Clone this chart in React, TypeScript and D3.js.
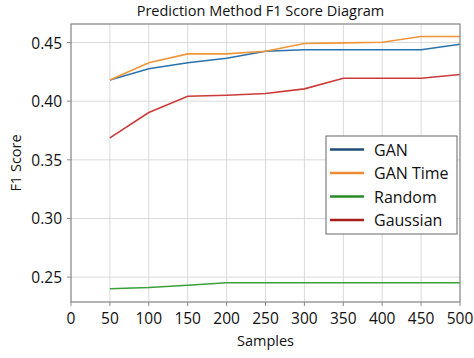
import React, { useRef, useEffect } from 'react';
import * as d3 from 'd3';

// data
const samples = [50, 100, 150, 200, 250, 300, 350, 400, 450, 500];
const gan = [0.418, 0.4276, 0.4327, 0.4366, 0.4426, 0.4438, 0.4438, 0.4438, 0.4438, 0.4486];
const ganTime = [0.418, 0.4327, 0.4403, 0.4403, 0.4426, 0.4492, 0.4497, 0.4503, 0.4551, 0.4551];
const random = [0.2401, 0.2412, 0.2431, 0.2452, 0.2452, 0.2452, 0.2452, 0.2452, 0.2452, 0.2452];
const gaussian = [0.3687, 0.3903, 0.4042, 0.405, 0.4065, 0.4105, 0.4195, 0.4195, 0.4195, 0.4227];
const seriesNames = ['GAN', 'GAN Time', 'Random', 'Gaussian'];
const seriesColors = ['#2a72ad', '#f0953a', '#3aa03a', '#cc3a3a'];
const legendColors = ['#1f4e79', '#ed8a34', '#2a8a2a', '#a81e1e'];
const xTicks = [0, 50, 100, 150, 200, 250, 300, 350, 400, 450, 500];
const yTicks = [0.25, 0.3, 0.35, 0.4, 0.45];

const W = 474;
const H = 358;
const FONT = '"Open Sans", "Noto Sans", sans-serif';

export default function App() {
  const ref = useRef<SVGSVGElement>(null);

  useEffect(() => {
    const svg = d3.select(ref.current);
    svg.selectAll('*').remove();

    const left = 71, right = 460, top = 24, bottom = 302;
    const x = d3.scaleLinear().domain([0, 500]).range([left, right]);
    const y = d3.scaleLinear().domain([0.2288, 0.4658]).range([bottom, top]);

    svg.append('rect').attr('width', W).attr('height', H).attr('fill', '#fff');

    // gridlines
    const grid = svg.append('g').attr('stroke', '#d9d9d9').attr('stroke-width', 1);
    xTicks.slice(1, -1).forEach(t => {
      grid.append('line').attr('x1', x(t)).attr('x2', x(t)).attr('y1', top).attr('y2', bottom);
    });
    yTicks.forEach(t => {
      grid.append('line').attr('x1', left).attr('x2', right).attr('y1', y(t)).attr('y2', y(t));
    });

    // lines
    const all = [gan, ganTime, random, gaussian];
    const line = d3.line<number>().x((d, i) => x(samples[i])).y(d => y(d));
    all.forEach((vals, i) => {
      svg.append('path')
        .attr('d', line(vals))
        .attr('fill', 'none')
        .attr('stroke', seriesColors[i])
        .attr('stroke-width', 1.6);
    });

    // frame
    svg.append('rect')
      .attr('x', left).attr('y', top)
      .attr('width', right - left).attr('height', bottom - top)
      .attr('fill', 'none').attr('stroke', '#8c8c8c').attr('stroke-width', 1.3);

    // y axis ticks
    const yAxis = svg.append('g');
    yTicks.forEach(t => {
      yAxis.append('line').attr('x1', left - 4).attr('x2', left).attr('y1', y(t)).attr('y2', y(t))
        .attr('stroke', '#8c8c8c');
      yAxis.append('text')
        .attr('x', left - 9).attr('y', y(t))
        .attr('text-anchor', 'end').attr('dominant-baseline', 'central')
        .attr('font-family', FONT).attr('font-size', 15.5).attr('fill', '#111')
        .text(t.toFixed(2));
    });

    // x axis ticks
    const xAxis = svg.append('g');
    xTicks.forEach(t => {
      xAxis.append('line').attr('x1', x(t)).attr('x2', x(t)).attr('y1', bottom).attr('y2', bottom + 4)
        .attr('stroke', '#8c8c8c');
      xAxis.append('text')
        .attr('x', x(t)).attr('y', 318)
        .attr('text-anchor', 'middle').attr('dominant-baseline', 'central')
        .attr('font-family', FONT).attr('font-size', 15.5).attr('fill', '#111')
        .text(String(t));
    });

    // titles
    svg.append('text')
      .attr('x', (left + right) / 2 - 5).attr('y', 10)
      .attr('text-anchor', 'middle').attr('dominant-baseline', 'central')
      .attr('font-family', FONT).attr('font-size', 14.5).attr('fill', '#111')
      .text('Prediction Method F1 Score Diagram');
    svg.append('text')
      .attr('x', (left + right) / 2).attr('y', 340)
      .attr('text-anchor', 'middle').attr('dominant-baseline', 'central')
      .attr('font-family', FONT).attr('font-size', 14.5).attr('fill', '#111')
      .text('Samples');
    svg.append('text')
      .attr('transform', `translate(15,${(top + bottom) / 2}) rotate(-90)`)
      .attr('text-anchor', 'middle').attr('dominant-baseline', 'central')
      .attr('font-family', FONT).attr('font-size', 14.5).attr('fill', '#111')
      .text('F1 Score');

    // legend
    const lg = svg.append('g').attr('transform', 'translate(326,136)');
    lg.append('rect').attr('width', 131).attr('height', 98)
      .attr('fill', '#fff').attr('stroke', '#666').attr('stroke-width', 1);
    seriesNames.forEach((name, i) => {
      const ly = 13.5 + i * 23.5;
      lg.append('line').attr('x1', 4).attr('x2', 38).attr('y1', ly).attr('y2', ly)
        .attr('stroke', legendColors[i]).attr('stroke-width', 2.5);
      lg.append('text').attr('x', 48).attr('y', ly)
        .attr('dominant-baseline', 'central')
        .attr('font-family', FONT).attr('font-size', 16).attr('fill', '#111')
        .text(name);
    });
  }, []);

  return (
    <svg ref={ref} width={W} height={H}
      style={{ position: 'absolute', top: 0, left: 0, display: 'block' }} />
  );
}
